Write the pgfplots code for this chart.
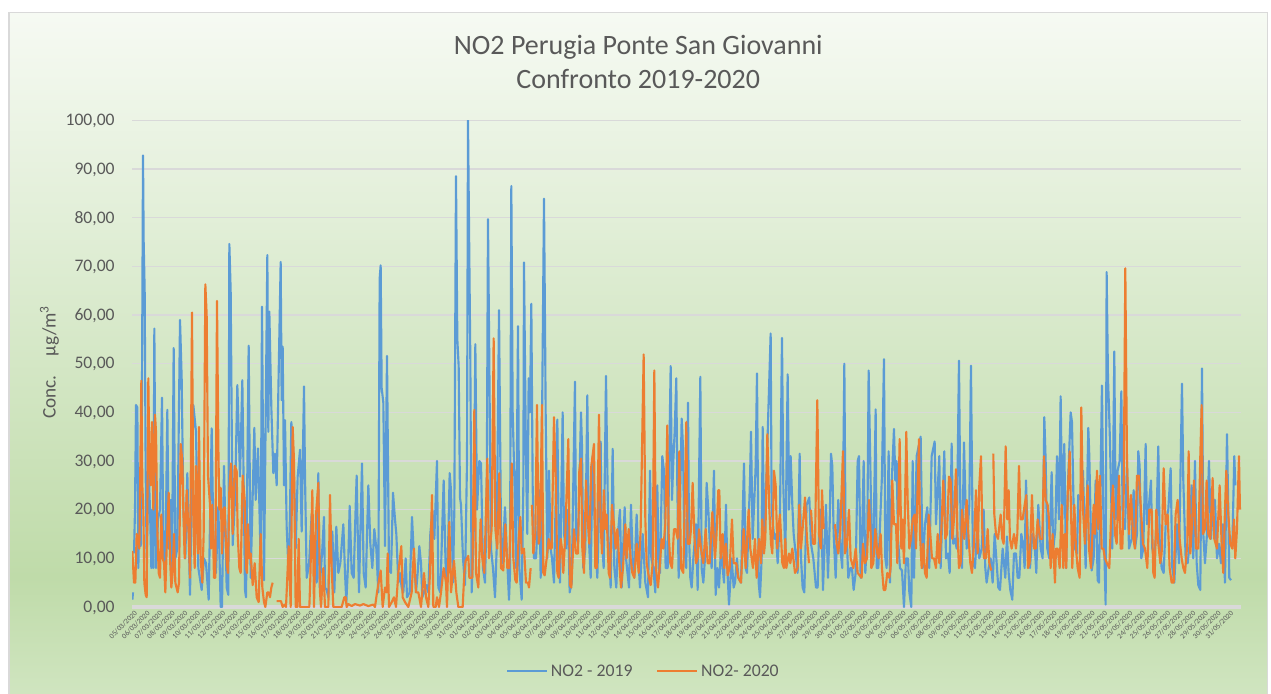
\documentclass[border=0pt]{standalone}
\usepackage{pgfplots}
\pgfplotsset{compat=1.18}
\usepackage{fontspec}
\setmainfont{Carlito}
\definecolor{bgTop}{HTML}{F6FAF3}
\definecolor{bgDark}{HTML}{BFDBA9}
\definecolor{bgBot}{HTML}{D0E5C0}
\definecolor{txt}{HTML}{595959}
\definecolor{gridc}{HTML}{D9D9D9}
\definecolor{serA}{HTML}{5B9BD5}
\definecolor{serB}{HTML}{ED7D31}
\pgfdeclareverticalshading{chartbg}{100bp}{color(0bp)=(bgBot); color(25bp)=(bgBot); color(33.7bp)=(bgDark); color(75bp)=(bgTop); color(100bp)=(bgTop)}
\begin{document}
\begin{tikzpicture}
\path[use as bounding box] (0,0) rectangle (953.25pt,519.75pt);
\path[shading=chartbg] (6.75pt,-2pt) rectangle (950.5pt,510.5pt);
\draw[gridc,line width=0.9pt] (6.75pt,-2pt) -- (6.75pt,510.5pt) -- (950.5pt,510.5pt) -- (950.5pt,-2pt);
\begin{axis}[
  at={(99pt,64.5pt)},anchor=south west,
  scale only axis,width=831.75pt,height=365pt,
  xmin=-0.08,xmax=87.94,ymin=0,ymax=100,
  axis line style={draw=none},
  major tick length=0pt,
  ytick={0,10,...,100},
  xtick={0,1,...,87},
  xticklabels={05/03/2020,06/03/2020,07/03/2020,08/03/2020,09/03/2020,10/03/2020,11/03/2020,12/03/2020,13/03/2020,14/03/2020,15/03/2020,16/03/2020,17/03/2020,18/03/2020,19/03/2020,20/03/2020,21/03/2020,22/03/2020,23/03/2020,24/03/2020,25/03/2020,26/03/2020,27/03/2020,28/03/2020,29/03/2020,30/03/2020,31/03/2020,01/04/2020,02/04/2020,03/04/2020,04/04/2020,05/04/2020,06/04/2020,07/04/2020,08/04/2020,09/04/2020,10/04/2020,11/04/2020,12/04/2020,13/04/2020,14/04/2020,15/04/2020,16/04/2020,17/04/2020,18/04/2020,19/04/2020,20/04/2020,21/04/2020,22/04/2020,23/04/2020,24/04/2020,25/04/2020,26/04/2020,27/04/2020,28/04/2020,29/04/2020,30/04/2020,01/05/2020,02/05/2020,03/05/2020,04/05/2020,05/05/2020,06/05/2020,07/05/2020,08/05/2020,09/05/2020,10/05/2020,11/05/2020,12/05/2020,13/05/2020,14/05/2020,15/05/2020,16/05/2020,17/05/2020,18/05/2020,19/05/2020,20/05/2020,21/05/2020,22/05/2020,23/05/2020,24/05/2020,25/05/2020,26/05/2020,27/05/2020,28/05/2020,29/05/2020,30/05/2020,31/05/2020},
  xticklabel style={rotate=45,anchor=north east,font=\fontsize{5.6}{6}\selectfont,text=txt,inner sep=1pt,yshift=-1pt},
  yticklabel style={font=\fontsize{13.2}{15}\selectfont,text=txt,/pgf/number format/fixed,/pgf/number format/fixed zerofill,/pgf/number format/precision=2,/pgf/number format/use comma,/pgf/number format/assume math mode=true,xshift=-9.5pt,yshift=-0.5pt},
  ymajorgrids,
  grid style={gridc,line width=0.9pt},
  extra y ticks={0},extra y tick labels={},
  extra y tick style={grid style={gridc,line width=2.4pt}},
  title={NO2 Perugia Ponte San Giovanni\\Confronto 2019-2020},
  title style={at={(0.4565,1.1035)},anchor=center,align=center,font=\fontsize{21}{25.5}\selectfont,text=txt},
  ylabel={Conc.\hspace{1em}µg/m\textsuperscript{3}},
  ylabel style={at={(axis description cs:-0.0745,0.503)},anchor=center,font=\fontsize{14.4}{16}\selectfont,text=txt},
  legend columns=2,
  legend style={at={(0.4615,-0.1325)},anchor=center,draw=none,fill=none,font=\fontsize{13.3}{15}\selectfont,text=txt,/tikz/every even column/.append style={column sep=16pt}},
  legend image code/.code={\draw[#1,line width=1.5pt] (0pt,0pt) -- (30pt,0pt);},
  unbounded coords=jump,
  line join=round,
  every axis plot/.append style={line width=1.6pt},
]
\addplot[serA] table[row sep=\\,x expr=(\thisrow{X}-9)/37.8,y=Y] {
X Y\\
7 1.5\\9 3\\10 nan\\12 11\\15 20\\18 41.5\\22 41\\25 8\\28 20\\32 12.5\\35 30\\39 92.8\\41 75\\44 65\\47 28\\50 10\\56 28\\60 20\\64 8\\67 20\\70 8\\73 57.2\\76 25\\78 8\\84 18\\90 20\\96 43\\100 12\\106 8\\112 40.5\\116 12\\122 22\\126 8\\131 53.2\\136 10\\142 12\\150 59\\155 47\\160 20\\166 10\\172 27.5\\180 2.5\\190 41.5\\198 36\\205 8\\215 3.5\\222 10\\228 9\\236 1.5\\245 36.7\\250 15\\258 7\\265 20.6\\272 0\\276 0\\282 29\\290 4\\295 2.5\\298 74.6\\302 65\\308 12.7\\315 22\\322 45.6\\330 26.8\\337 46.6\\345 3.5\\348 2\\356 53.7\\362 6\\373 36.8\\377 22\\384 32.6\\392 9.6\\396 61.7\\402 5.5\\412 72.3\\415 36\\418 60.7\\424 41\\430 27.5\\435 31.5\\440 25\\452 70.9\\455 42.5\\458 53.5\\462 25\\465 38.4\\470 16.5\\475 8.3\\478 11\\484 38\\491 30.5\\497 12\\503 26.8\\510 32.3\\515 15.5\\522 45.3\\525 27\\530 6\\537 8.6\\545 19\\552 9.5\\560 5\\565 27.5\\
569 4\\577 12\\582 18.5\\585 4\\590 3.5\\595 2\\600 15\\607 15.5\\613 3\\619 16.5\\625 7\\631 9\\640 17\\645 7\\649 1\\655 10\\659 20.8\\665 7\\671 6\\677 20.5\\680 27\\683 16\\687 3\\690 12\\696 29.5\\701 7\\707 4\\715 25\\721 13\\727 8\\733 16\\739 12\\745 3\\749 67.5\\752 70.2\\755 45\\760 42\\765 12.5\\771 51.6\\777 7.5\\783 7\\789 23.5\\795 18\\799 15\\805 5\\810 7\\815 4\\820 3\\827 10\\831 2\\839 3\\846 18.5\\852 10\\858 3\\863 7\\868 12.5\\873 9\\877 2\\882 3\\890 4.5\\895 3\\901 15\\907 20\\913 14\\921 30\\925 4\\931 3\\941 26\\947 8\\952 5\\959 27.5\\963 24\\969 5\\973 20\\978 88.5\\982 55\\986 49.5\\990 22.5\\993 21\\999 10\\1005 4.5\\1011 30\\1014 100\\1021 50.5\\1025 3\\1031 15\\1036 54\\1041 20\\1048 30\\1053 29.5\\1059 8\\1065 5\\1070 20\\1074 79.7\\1078 50\\1083 12\\1089 8\\1095 2\\1100 12\\1107 61\\1113 15\\1117 9\\
1120 13\\1125 20.5\\1130 12\\1137 1.5\\1140 7\\1144 86.5\\1148 40\\1154 24\\1158 8\\1164 57.7\\1168 8\\1175 1.5\\1180 25\\1182 70.8\\1188 30\\1192 15\\1196 47\\1200 40\\1204 62.3\\1208 25\\1212 10\\1218 10\\1228 24\\1232 6\\1242 83.9\\1245 58.7\\1247 40\\1252 10\\1257 28\\1262 12\\1266 10\\1272 5\\1282 38.5\\1286 15\\1290 5\\1298 40\\1302 15\\1308 12\\1314 20\\1319 3\\1325 5\\1335 46.3\\1338 15\\1344 13\\1353 40\\1356 33\\1360 8\\1366 12\\1372 43.5\\1376 15\\1382 6\\1388 31\\1395 15\\1402 6\\1412 34\\1415 15\\1421 8\\1428 47.5\\1430 37.5\\1435 15\\1442 4\\1448 32.5\\1453 8\\1459 4\\1465 16\\1470 20\\1475 4\\1484 20.5\\1488 10\\1497 4\\1503 21\\1508 10\\1513 6\\1520 19\\1525 10\\1530 4\\1538 15\\1546 5\\1554 2\\1560 28\\1564 10\\1570 8\\1576 3\\1582 25\\1586 8\\1590 7\\1597 31\\1602 28\\1607 8\\1613 8\\1618 32\\1622 49.5\\1626 22\\1630 30\\1634 36\\1639 47\\1642 25\\1646 6\\1655 38.7\\1659 33\\1663 12\\1669 8\\1674 42\\
1677 15\\1681 6\\1685 4\\1690 10\\1698 17\\1703 3.5\\1711 47.3\\1715 8\\1720 5\\1725 10\\1730 25.5\\1735 20\\1740 12\\1745 8\\1752 28\\1757 2.5\\1762 8\\1767 4\\1773 12\\1782 5\\1788 21\\1792 8\\1797 0.5\\1805 10\\1811 4\\1815 5\\1821 10\\1825 6\\1833 5\\1842 29.5\\1847 8\\1851 7\\1860 26\\1863 36\\1868 14\\1873 22\\1877 29\\1881 48\\1886 5\\1890 2\\1895 10\\1898 37\\1903 12\\1915 40\\1922 56.2\\1925 20\\1933 14\\1938 15\\1943 9\\1950 19\\1956 55.3\\1960 25\\1966 10\\1973 47.8\\1976 30\\1977 20\\1982 31\\1987 21\\1991 15\\1997 11\\2003 7\\2009 31.5\\2013 10\\2018 4\\2023 3\\2030 21\\2038 22.5\\2043 13\\2050 10\\2058 4\\2063 4\\2069 20\\2074 20\\2079 3.5\\2088 21\\2094 6\\2099 17\\2103 31.5\\2107 29\\2111 15\\2117 6\\2125 22\\2131 12\\2137 8\\2143 50\\2147 12\\2151 13\\2155 6\\2161 8\\2166 8\\2171 3.5\\2177 7\\2183 30\\2187 31\\2192 6\\2195 9\\2201 30\\2206 7\\2212 15\\2216 48.6\\2220 33\\
2226 10\\2231 15\\2237 40.6\\2240 8\\2245 8\\2256 27\\2262 50.9\\2266 10\\2270 8\\2276 32\\2280 5\\2286 27\\2292 36.6\\2296 26\\2300 30\\2304 14\\2310 8\\2316 7.5\\2322 0\\2328 10\\2334 10\\2338 3\\2344 0\\2348 30\\2352 6\\2360 31\\2372 35\\2378 8\\2385 17\\2392 20.5\\2398 8\\2405 31\\2414 34\\2418 17\\2428 31\\2432 8\\2443 32\\2448 10\\2454 11\\2459 7\\2465 33.6\\2470 13\\2475 14\\2480 12\\2487 50.6\\2492 14\\2496 8\\2502 33.8\\2510 12\\2518 21\\2523 49.6\\2525 35\\2529 9\\2535 8\\2542 17\\2548 10\\2555 12\\2561 20\\2566 8\\2570 5\\2576 8\\2582 10\\2588 5\\2594 15\\2600 9\\2605 4\\2610 3.5\\2618 12\\2626 6\\2631 14.5\\2636 7\\2641 3.5\\2647 1.5\\2652 11\\2658 11\\2663 6\\2668 6\\2674 15\\2679 13\\2684 8\\2688 26\\2694 13\\2700 8\\2707 15\\2713 14\\2719 7\\2725 21\\2732 12\\2738 10\\2743 39\\2747 30\\2752 12\\2758 10\\2765 27.7\\2770 12\\2776 16\\
2781 31\\2787 18\\2792 43.3\\2797 18\\2803 33.5\\2808 8\\2815 27\\2822 40\\2826 38\\2831 20\\2835 12\\2841 11\\2845 23\\2853 22\\2859 28\\2867 8\\2875 36.8\\2878 31\\2885 7.5\\2891 10\\2897 26\\2903 5.5\\2907 5\\2916 45.5\\2920 20\\2927 0.5\\2930 68.8\\2934 47\\2937 41\\2940 34\\2947 12\\2953 52.5\\2957 18\\2963 28\\2969 30\\2974 44.3\\2978 18\\2985 16\\2991 30\\2997 12\\3005 14\\3011 24\\3015 12\\3021 15\\3025 32\\3029 29\\3034 10\\3040 12\\3047 33.5\\3051 17\\3057 21\\3063 26\\3067 12\\3073 10\\3079 16\\3085 33\\3089 14\\3095 8\\3101 7\\3107 17\\3115 20\\3122 28.5\\3127 8\\3133 5\\3141 17\\3147 9\\3156 45.9\\3160 26\\3167 10\\3173 9\\3179 13\\3185 25\\3190 10\\3195 30\\3200 9\\3205 4.5\\3211 3.5\\3216 49\\3220 15\\3225 9\\3231 15\\3237 30\\3243 14\\3249 21\\3255 22\\3261 10\\3267 13\\3273 9\\3279 17\\3285 5\\3291 35.5\\3295 20\\3298 6\\3303 5.5\\3305 nan\\3307 12\\3313 31\\3316 25\\
};
\addlegendentry{NO2 - 2019}
\addplot[serB] table[row sep=\\,x expr=(\thisrow{X}-9)/37.8,y=Y] {
X Y\\
7 11.5\\12 5\\16 5\\20 15\\24 14\\28 12\\34 46.5\\37 25\\40 20\\43 5\\47 2.5\\50 2\\55 47\\58 30\\62 25\\66 38\\70 20\\75 39.5\\78 36\\82 16\\86 7\\90 6\\94 19\\98 10\\102 9\\106 3\\110 12\\116 23.5\\120 10\\124 4\\128 7\\132 15\\136 5\\143 3\\147 5\\152 33.5\\157 30\\160 20\\164 10\\170 24\\176 15\\180 6\\186 60.5\\190 18\\194 8\\198 29\\204 11\\207 37\\212 10\\217 5\\221 15\\226 66.3\\230 60\\234 27\\240 21\\243 12\\247 21\\252 6\\256 6\\261 62.9\\265 33\\268 20\\272 24.5\\276 11\\280 20\\284 20.5\\290 9\\294 7\\298 24\\303 29.5\\308 15\\314 29\\320 28\\323 15\\328 8\\332 7\\338 27\\344 22\\348 8\\351 7\\354 17\\358 10\\362 11\\368 4.5\\374 9\\380 2\\386 1\\392 15\\397 4\\402 1\\406 0\\412 3\\416 3\\420 2\\424 4\\428 5\\433 nan\\440 1.2\\453 1.2\\458 0\\463 0.5\\468 0\\476 12.5\\482 0\\488 37\\492 30\\497 0\\502 0\\506 14\\510 0\\530 0\\538 0\\541 6\\547 24\\552 0\\558 19\\565 25.5\\
570 3\\573 0\\580 8\\585 0\\595 0\\600 23\\605 8\\610 0\\635 0\\643 2\\647 2\\650 0\\655 0.6\\665 0.2\\675 0.6\\690 0.3\\700 0.6\\715 0.2\\730 0.5\\735 0\\741 3\\752 7.5\\758 0\\765 4\\770 3\\773 11\\777 0\\785 1\\792 2\\798 0\\805 7\\814 12.5\\818 2\\825 1\\835 0\\845 3\\852 12\\858 3\\865 3\\873 0\\882 7\\888 2\\895 0\\900 7\\906 23\\910 0\\917 0\\921 2\\927 0\\933 3\\941 8\\948 5\\951 0\\958 17.5\\963 3\\972 9.5\\979 3\\985 0\\998 0\\1003 7\\1007 9.5\\1015 10.5\\1018 6\\1027 6\\1033 40.5\\1038 7\\1045 4\\1052 18\\1057 10\\1063 7\\1072 30.5\\1077 10\\1085 16\\1091 55.2\\1096 16\\1102 12\\1108 27.5\\1113 8\\
1120 7.5\\1126 17\\1132 8\\1138 8\\1145 29.5\\1150 10\\1156 5.5\\1160 5\\1165 13\\1171 18.5\\1175 11\\1182 12\\1188 5\\1194 5\\1197 4\\1202 8\\1204 nan\\1206 21\\1210 11\\1216 15\\1221 41.5\\1226 13\\1230 15\\1236 41.5\\1240 7\\1244 6.5\\1250 10\\1256 14\\1260 12\\1265 12\\1272 39\\1277 27\\1282 7\\1286 6\\1292 14\\1296 12\\1300 7\\1306 15\\1310 24\\1315 34.5\\1320 4.5\\1324 4\\1332 16\\1338 11\\1344 11\\1348 28\\1353 30.5\\1357 12\\1362 7\\1368 26\\1372 19\\1378 13\\1384 29\\1392 33.5\\1396 8\\1400 8\\1407 39.5\\1412 17\\1416 11\\1422 24\\1426 16\\1430 19\\1436 7\\1440 6\\1446 21\\1452 17\\1457 12\\1462 16\\1468 9\\1473 4\\1479 8\\1486 17\\1490 10\\1496 16\\1502 10\\1507 7\\1513 6\\1520 13\\1526 7\\1532 16\\1541 51.9\\1546 18\\1550 9\\1557 6\\1562 4.5\\1568 9\\1573 48.6\\1578 8\\1584 4\\1590 9\\1595 14\\1600 12\\1606 17\\1612 37.3\\1616 15\\1621 9\\1626 8\\1632 16\\1637 16\\1643 14\\1648 32\\1653 8\\1660 7\\1669 38\\
1673 13\\1679 13\\1683 16\\1688 25.5\\1693 15\\1698 9\\1703 10\\1707 16\\1713 12\\1720 9\\1727 16\\1733 9\\1739 9\\1747 19.5\\1755 10\\1759 14\\1765 24\\1768 24\\1772 10\\1778 15\\1783 8\\1788 13\\1793 6.5\\1799 8\\1806 18\\1811 9\\1819 9\\1825 6\\1833 5\\1841 16\\1847 8\\1856 20\\1861 12\\1869 8\\1875 14\\1880 6\\1887 14\\1893 9\\1897 18\\1902 11\\1906 14\\1912 35.5\\1918 20\\1923 13\\1927 11\\1932 28\\1937 25\\1942 12\\1945 16\\1950 19\\1957 9\\1962 8\\1966 14\\1969 8\\1977 11\\1981 9\\1987 12\\1995 7\\2003 8\\2008 21\\2013 12\\2019 17\\2025 22.5\\2031 14\\2037 9\\2040 nan\\2043 20\\2049 13\\2055 13\\2062 42.5\\2067 15\\2073 12\\2076 24\\2081 16\\2095 nan\\2115 17\\2120 13\\2125 11\\2131 16\\2139 32\\2145 11\\2151 13\\2157 20\\2162 10\\2170 8\\2177 12\\2183 7\\2189 6.5\\2195 6\\2199 13\\2205 9\\2211 10\\2217 22\\2222 15\\
2224 8\\2230 9\\2236 16\\2242 11\\2246 10\\2252 15\\2256 8\\2261 3.5\\2266 3.5\\2272 7\\2278 6\\2282 8\\2287 26\\2292 17\\2298 17\\2302 9\\2309 34.5\\2314 12\\2317 18\\2322 9\\2329 36\\2333 22\\2338 12\\2343 14\\2348 18\\2354 19\\2358 12\\2367 34.5\\2370 15\\2375 8\\2380 13\\2385 7\\2390 6\\2396 19\\2402 14\\2406 10\\2412 10\\2418 8\\2423 15\\2428 9\\2433 14\\2440 26\\2446 14\\2451 15\\2457 26.8\\2462 26\\2467 14\\2472 18\\2478 28.3\\2482 16\\2487 8\\2492 9\\2496 20\\2503 14\\2510 22\\2516 14\\2521 9\\2526 7\\2532 13\\2538 24\\2543 11\\2548 25\\2553 31\\2557 16\\2562 10\\2568 10\\2573 16\\2578 9\\2584 7.5\\2587 nan\\2590 31.5\\2593 19\\2598 15\\2604 14\\2612 19\\2617 14\\2621 13\\2627 33\\2632 18\\2636 24\\2640 14\\2645 12\\2652 15\\2658 12\\2662 15\\2667 29\\2672 18\\2678 18\\2684 21\\2689 23\\2694 8\\2699 9\\2706 23\\2712 12\\2717 12\\2723 18\\2730 14\\2737 14\\2742 31\\2747 22\\2753 21\\2757 18\\2762 8\\2768 15\\2775 5\\
2778 12\\2783 12\\2789 8\\2795 21\\2800 8\\2805 15\\2809 8\\2813 23\\2819 32\\2823 20\\2827 8\\2833 21\\2838 12\\2843 8\\2849 6\\2854 41\\2859 20\\2865 13\\2873 25\\2877 12\\2883 8\\2891 21\\2895 15\\2901 28\\2905 16\\2910 27\\2915 12\\2920 12\\2925 10\\2931 9\\2938 8\\2943 18\\2949 25\\2955 15\\2960 13\\2967 27\\2972 12\\2977 12\\2981 22\\2986 69.6\\2991 30\\2997 15\\3003 23\\3010 14\\3015 12\\3021 27\\3027 27\\3033 20\\3039 13\\3045 12\\3052 8\\3058 20\\3065 20\\3070 7\\3074 6\\3079 20\\3085 13\\3091 9\\3095 11\\3101 28.5\\3107 17\\3113 19\\3119 8\\3125 5\\3131 5\\3137 19\\3143 22\\3149 14\\3155 10\\3160 8\\3165 7\\3172 13\\3176 32\\3181 11\\3187 18\\3192 26\\3198 12\\3205 12\\3211 31\\3215 41.5\\3219 15\\3225 16\\3230 26\\3235 15\\3241 14\\3248 26.5\\3253 14\\3261 12\\3269 25\\3275 13\\3280 7\\3285 20\\3289 28\\3295 19\\3301 13\\3307 12\\3312 18\\3316 10\\3321 16\\3327 31\\3330 20\\
};
\addlegendentry{NO2- 2020}
\end{axis}
\end{tikzpicture}
\end{document}
